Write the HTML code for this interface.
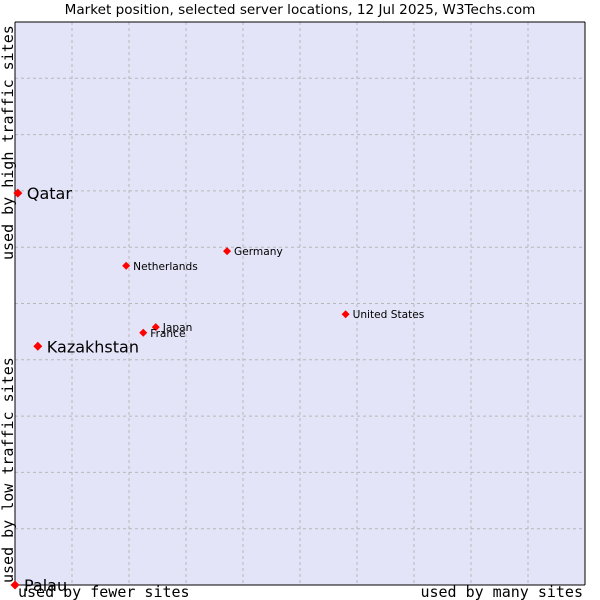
<!DOCTYPE html>
<html><head><meta charset="utf-8"><style>
body{margin:0;background:#fff;width:600px;height:600px;overflow:hidden}
svg{display:block}
</style></head><body>
<svg id="chart" width="600" height="600" xmlns="http://www.w3.org/2000/svg">
<text x="300" y="14" text-anchor="middle" font-family="DejaVu Sans, sans-serif" font-size="13.6" fill="#000">Market position, selected server locations, 12 Jul 2025, W3Techs.com</text>
<rect x="15" y="22" width="570" height="563" fill="#e3e4f8"/>
<g id="grid"></g>
<line x1="15" y1="22" x2="585" y2="22" stroke="#000"/>
<line x1="585" y1="22" x2="585" y2="585" stroke="#000"/>
<line x1="15" y1="22" x2="15" y2="585" stroke="#000"/>
<line x1="15" y1="585" x2="585" y2="585" stroke="#000"/>
<g id="points"></g>
<text x="18" y="597" font-family="DejaVu Sans Mono, monospace" font-size="15">used by fewer sites</text>
<text x="583" y="597" text-anchor="end" font-family="DejaVu Sans Mono, monospace" font-size="15">used by many sites</text>
<text transform="translate(13,583) rotate(-90)" font-family="DejaVu Sans Mono, monospace" font-size="15">used by low traffic sites</text>
<text transform="translate(13,260) rotate(-90)" font-family="DejaVu Sans Mono, monospace" font-size="15">used by high traffic sites</text>
</svg>
<script>
const names = ["Qatar","Kazakhstan","Palau","Netherlands","Germany","United States","Japan","France"];
const xValues = [0.5,4,0,19.5,37.2,58,24.7,22.5];
const yValues = [69.6,42.4,0,56.7,59.3,48.1,45.8,44.8];
const bigLabel = [true,true,true,false,false,false,false,false];
const gridTicks = [10,20,30,40,50,60,70,80,90];
const L=15,R=585,T=22,B=585;
const sx=v=>L+(R-L)*v/100, sy=v=>B-(B-T)*v/100;
const NS="http://www.w3.org/2000/svg";
const grid=document.getElementById('grid'), pts=document.getElementById('points');
gridTicks.forEach(t=>{
  let l=document.createElementNS(NS,'line');
  l.setAttribute('x1',sx(t));l.setAttribute('x2',sx(t));l.setAttribute('y1',T);l.setAttribute('y2',B);
  l.setAttribute('stroke','#b8b8b8');l.setAttribute('stroke-dasharray','3,3');
  
  
  grid.appendChild(l);
  let h=document.createElementNS(NS,'line');
  h.setAttribute('y1',sy(t));h.setAttribute('y2',sy(t));h.setAttribute('x1',L);h.setAttribute('x2',R);
  h.setAttribute('stroke','#b8b8b8');h.setAttribute('stroke-dasharray','3,3');
  
  
  grid.appendChild(h);
});
names.forEach((n,i)=>{
  const x=sx(xValues[i]),y=sy(yValues[i]);
  let d=document.createElementNS(NS,'path');
  const r=bigLabel[i]?4.5:4;
  d.setAttribute('d',`M${x-r} ${y}L${x} ${y-r}L${x+r} ${y}L${x} ${y+r}Z`);
  d.setAttribute('fill','#f00');
  
  
  pts.appendChild(d);
  let t=document.createElementNS(NS,'text');
  t.setAttribute('x',x+(bigLabel[i]?9:7));
  t.setAttribute('y',y+(bigLabel[i]?6:4));
  t.setAttribute('font-family','DejaVu Sans, sans-serif');
  t.setAttribute('font-size',bigLabel[i]?'16':'10.6');
  t.textContent=n;
  
  
  pts.appendChild(t);
});
</script>
</body></html>
